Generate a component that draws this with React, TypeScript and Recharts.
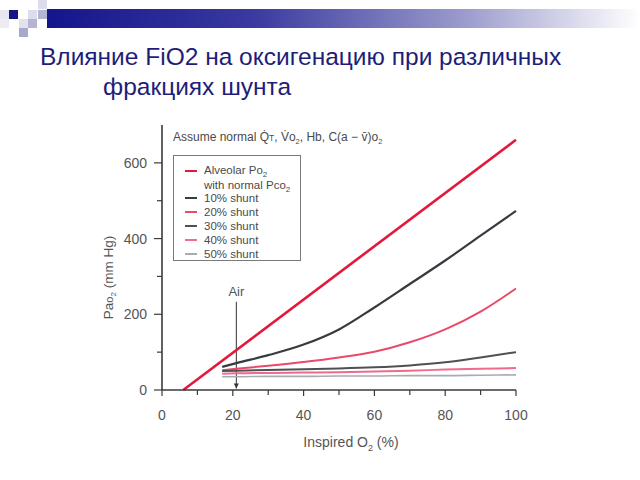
import React from 'react';
import { LineChart, Line, XAxis, YAxis, Legend, ReferenceLine } from 'recharts';

// ---- data ----
const alveolarFiO2 = [6, 100];
const alveolarPO2 = [0, 661];

const shuntFiO2 = [17, 21, 30, 40, 50, 60, 70, 80, 90, 100];
const shunt10 = [61, 71, 92, 120, 160, 218, 280, 342, 408, 473];
const shunt20 = [52, 56, 64, 74, 86, 101, 126, 160, 207, 268];
const shunt30 = [50, 51, 53, 55, 57, 60, 65, 73, 86, 100];
const shunt40 = [43, 44, 45, 46, 47, 49, 51, 54, 56, 58];
const shunt50 = [35, 35, 36, 36, 37, 37, 38, 38, 39, 40];

const xTicks = [0, 10, 20, 30, 40, 50, 60, 70, 80, 90, 100];
const yTicks = [0, 100, 200, 300, 400, 500, 600];
const airFiO2 = 21;
const airArrow = [233, 4];

const titleLine1 = 'Влияние FiO2 на оксигенацию при различных';
const titleLine2 = 'фракциях шунта';

const toRows = (xs: number[], ys: number[]) => xs.map((x, i) => ({ x, y: ys[i] }));

const series = [
  { key: 'alv', name: 'Alveolar Po2 with normal Pco2', data: toRows(alveolarFiO2, alveolarPO2), color: '#e2183d', width: 2.6 },
  { key: 's10', name: '10% shunt', data: toRows(shuntFiO2, shunt10), color: '#363b40', width: 2.2 },
  { key: 's20', name: '20% shunt', data: toRows(shuntFiO2, shunt20), color: '#ea4a68', width: 2.0 },
  { key: 's30', name: '30% shunt', data: toRows(shuntFiO2, shunt30), color: '#4c5155', width: 2.0 },
  { key: 's40', name: '40% shunt', data: toRows(shuntFiO2, shunt40), color: '#f06a8c', width: 2.0 },
  { key: 's50', name: '50% shunt', data: toRows(shuntFiO2, shunt50), color: '#a8acaf', width: 1.6 },
];

const FONT = 'Liberation Sans, Arial, Helvetica, sans-serif';
const AXIS = '#3a3a3a';
const TXT = '#555';

const XTick = (props: any) => {
  const { x, y, payload } = props;
  const major = payload.value % 20 === 0;
  return (
    <g>
      <line x1={x} y1={y} x2={x} y2={y + (major ? 6 : 5)} stroke={AXIS} strokeWidth={1.2} />
      {major && (
        <text x={x} y={y + 30} textAnchor="middle" fontSize={14} fill={TXT} fontFamily={FONT}>
          {payload.value}
        </text>
      )}
    </g>
  );
};

const YTick = (props: any) => {
  const { x, y, payload } = props;
  const major = payload.value % 200 === 0;
  return (
    <g>
      <line x1={x - (major ? 8 : 5)} y1={y} x2={x} y2={y} stroke={AXIS} strokeWidth={1.2} />
      {major && (
        <text x={x - 15} y={y + 5} textAnchor="end" fontSize={14} fill={TXT} fontFamily={FONT}>
          {payload.value}
        </text>
      )}
    </g>
  );
};

const YLabel = (props: any) => {
  const vb = props.viewBox || { x: 0, y: 0, height: 0 };
  const cx = vb.x + 11;
  const cy = vb.y + vb.height / 2 + 20;
  return (
    <text transform={`rotate(-90 ${cx} ${cy})`} x={cx} y={cy} textAnchor="middle" fontSize={13.5} fill={TXT} fontFamily={FONT}>
      Pa<tspan fontSize={11}>o</tspan>
      <tspan fontSize={8} dy={3}>2</tspan>
      <tspan dy={-3}> (mm Hg)</tspan>
    </text>
  );
};

const XLabel = (props: any) => {
  const vb = props.viewBox || { x: 0, y: 0, width: 0 };
  const cx = vb.x + vb.width / 2 + 12;
  const cy = vb.y + 57;
  return (
    <text x={cx} y={cy} textAnchor="middle" fontSize={14} fill={TXT} fontFamily={FONT}>
      Inspired O<tspan fontSize={9} dy={4}>2</tspan>
      <tspan dy={-4}> (%)</tspan>
    </text>
  );
};

const AirShape = (props: any) => {
  const { x1, y1, x2, y2 } = props;
  if (x1 == null) return null;
  return (
    <g>
      <text x={x1} y={y1 - 6} textAnchor="middle" fontSize={13} fill={TXT} fontFamily={FONT}>Air</text>
      <line x1={x1} y1={y1} x2={x2} y2={y2} stroke="#333" strokeWidth={1} />
      <path d={`M${x2 - 2.5},${y2 - 5} L${x2 + 2.5},${y2 - 5} L${x2},${y2} Z`} fill="#333" />
    </g>
  );
};

const Sub = ({ children }: { children: React.ReactNode }) => (
  <span style={{ fontSize: 8, position: 'relative', top: 3 }}>{children}</span>
);

const LegendBox = () => {
  const sw = (color: string, w: number, top: number) => (
    <div style={{ position: 'absolute', left: 11, top, width: 12, height: w, background: color }} />
  );
  const rowStyle: React.CSSProperties = { position: 'relative', height: 14, lineHeight: '14px', paddingLeft: 30 };
  return (
    <div
      style={{
        width: 128,
        height: 106,
        border: '1px solid #7a7a7a',
        boxSizing: 'border-box',
        background: '#fff',
        fontFamily: FONT,
        fontSize: 11.5,
        color: '#4a4a4a',
        paddingTop: 8,
        textAlign: 'left',
      }}
    >
      <div style={{ position: 'relative', height: 27, lineHeight: '13.5px', paddingLeft: 30 }}>
        {sw(series[0].color, 2.6, 5.5)}
        <div>Alveolar Po<Sub>2</Sub></div>
        <div>with normal Pco<Sub>2</Sub></div>
      </div>
      {series.slice(1).map((s) => (
        <div key={s.key} style={rowStyle}>
          {sw(s.color, s.width, 7 - s.width / 2)}
          {s.name}
        </div>
      ))}
    </div>
  );
};

const Decoration = () => {
  const sq = (left: number, top: number, bg: string, key: string) => (
    <div key={key} style={{ position: 'absolute', left, top, width: 9, height: 9, background: bg }} />
  );
  return (
    <>
      <div
        style={{
          position: 'absolute',
          left: 47,
          top: 9,
          width: 593,
          height: 19,
          background: 'linear-gradient(to right, #15158c 0%, #3a3aa0 35%, #9a9acc 70%, #ffffff 100%)',
        }}
      />
      {[
        sq(0, 10, '#e6e6ee', 'a'),
        sq(0, 19, '#ececf2', 'b'),
        sq(9, 10, '#151585', 'c'),
        sq(28, 10, '#dcdcea', 'd'),
        sq(38, 10, '#b4b4d4', 'e'),
        sq(38, 0, '#dcdcea', 'f'),
        sq(19, 19, '#e2e2ee', 'g'),
        sq(28, 19, '#b4b4d4', 'h'),
        sq(19, 28, '#a8a8cc', 'i'),
      ]}
    </>
  );
};

export default function App() {
  return (
    <div style={{ position: 'absolute', left: 0, top: 0, width: 640, height: 480, background: '#fff', overflow: 'hidden' }}>
      <Decoration />
      <div style={{ position: 'absolute', left: 40, top: 43, fontFamily: FONT, fontSize: 24.5, color: '#1e1e78', whiteSpace: 'nowrap', lineHeight: '28px' }}>
        {titleLine1}
      </div>
      <div style={{ position: 'absolute', left: 103, top: 73, fontFamily: FONT, fontSize: 24.5, color: '#1e1e78', whiteSpace: 'nowrap', lineHeight: '28px' }}>
        {titleLine2}
      </div>
      <div style={{ position: 'absolute', left: 0, top: 0 }}>
        <LineChart width={640} height={480} data={series[1].data} margin={{ top: 125, right: 124, bottom: 60, left: 102 }}>
          <XAxis
            dataKey="x"
            type="number"
            domain={[0, 100]}
            ticks={xTicks}
            interval={0}
            tick={<XTick />}
            tickLine={false}
            tickSize={0}
            tickMargin={0}
            height={30}
            axisLine={{ stroke: AXIS, strokeWidth: 1.6 }}
            label={<XLabel />}
          />
          <YAxis
            type="number"
            domain={[0, 700]}
            ticks={yTicks}
            interval={0}
            tick={<YTick />}
            tickLine={false}
            tickSize={0}
            tickMargin={0}
            width={60}
            axisLine={{ stroke: AXIS, strokeWidth: 1.6 }}
            label={<YLabel />}
          />
          <Legend
            layout="horizontal"
            verticalAlign="middle"
            align="center"
            wrapperStyle={{ left: 173, top: 155, width: 128, height: 106 }}
            content={() => <LegendBox />}
          />
          <ReferenceLine
            segment={[
              { x: airFiO2, y: airArrow[0] },
              { x: airFiO2, y: airArrow[1] },
            ]}
            shape={(p: any) => <AirShape {...p} />}
          />
          {series.map((s) => (
            <Line
              key={s.key}
              data={s.data}
              dataKey="y"
              name={s.name}
              type="monotone"
              stroke={s.color}
              strokeWidth={s.width}
              dot={false}
              activeDot={false}
              isAnimationActive={false}
              legendType="none"
            />
          ))}
          <text x={173} y={141} fontSize={12} fill="#4a4a4a" fontFamily={FONT}>
            Assume normal Q̇<tspan fontSize={8.5}>T</tspan>, V̇o<tspan fontSize={7.5} dy={3}>2</tspan>
            <tspan dy={-3}>, Hb, C(a − v̄)o</tspan>
            <tspan fontSize={7.5} dy={3}>2</tspan>
          </text>
        </LineChart>
      </div>
    </div>
  );
}
